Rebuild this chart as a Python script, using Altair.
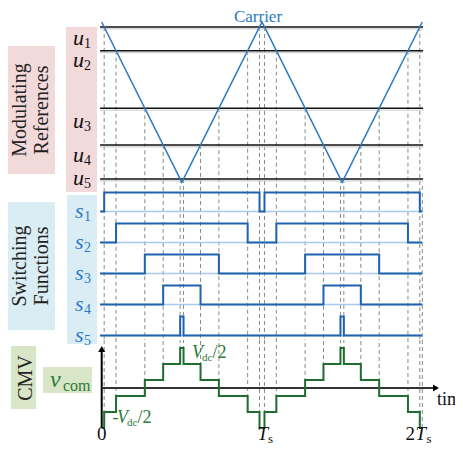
import altair as alt
import pandas as pd

# ---------------- data ----------------
# triangular carrier: time in units of Ts, value normalised 0..1
carrier_t = [0.0, 0.5, 1.0, 1.5, 2.0]
carrier_v = [1.0, 0.0, 1.0, 0.0, 1.0]

# modulating references u1..u5 (same normalised units as the carrier)
ref_names = ["1", "2", "3", "4", "5"]
ref_levels = [0.969, 0.821, 0.462, 0.233, 0.021]

# carrier periods shown
periods = [0, 1]

# common-mode voltage range (units of Vdc): -Vdc/2 .. +Vdc/2 in 5 steps
cmv_min, cmv_max = -0.5, 0.5
n_levels = 5

# ---------------- colours / fonts ----------------
SERIF = "Liberation Serif, Times New Roman, Tinos, DejaVu Serif, serif"
BLUE = "#2a78c2"
DBLUE = "#1f63ae"
LBLUE = "#a9cbea"
GREEN = "#1f6d2f"
GTEXT = "#2b7a38"
PINK = "#f2dada"
LBOX = "#daedf4"
GBOX = "#d8e5c6"
DASH = "#8a8a8a"

# ---------------- layout (page pixels) ----------------
W, H = 447, 436
def PX(p):
    return p - 8

X0, XTS = 101.7, 160.3           # page x of t=0, pixels per Ts
YTOP, YBOT = 22.0, 182.3         # carrier top / bottom (page y)
XS = alt.Scale(domain=[0, 2], range=[PX(X0), PX(X0 + 2 * XTS)], nice=False, zero=False)
YC = alt.Scale(domain=[0, 1], range=[PX(YBOT), PX(YTOP)], nice=False, zero=False)
row_low = [211.5 + 31 * k for k in range(5)]
ROW_AMP = 19
YR = [alt.Scale(domain=[0, 1], range=[PX(l), PX(l - ROW_AMP)], nice=False, zero=False) for l in row_low]
YV = alt.Scale(domain=[cmv_min, cmv_max], range=[PX(428), PX(348)], nice=False, zero=False)
SPLIT = PX(340)

def tx(px):
    return (px - X0) / XTS

def cy(py):
    return (YBOT - py) / (YBOT - YTOP)

def level(n):
    return cmv_min + (cmv_max - cmv_min) * n / n_levels

# ---------------- derived switching edges ----------------
edges = []
rows = []
for k, u in enumerate(ref_levels):
    a = (1 - u) / 2
    pts = [(-0.01, 0)]
    for p in periods:
        edges.append((p + a, k, 1))
        edges.append((p + 1 - a, k, -1))
        pts += [(p + a, 1), (p + 1 - a, 0)]
    pts.append((2.0, 0))
    rows.append(pd.DataFrame(pts, columns=["t", "s"]))
edges.sort()
n = 0
cmv_pts = [(0.0, level(0))]
dash_rows = []
for t, k, d in edges:
    before = n
    n += d
    cmv_pts.append((t, level(n)))
    dash_rows.append(dict(t=t, u=ref_levels[k], vlow=level(min(before, n))))
cmv_pts.append((2.0, level(n)))
cmv_df = pd.DataFrame(cmv_pts, columns=["t", "v"])
dash_df = pd.DataFrame(dash_rows)

carrier_df = pd.DataFrame({"t": carrier_t, "c": carrier_v})
ref_df = pd.DataFrame({"name": ref_names, "u": ref_levels, "t0": -0.01, "t1": 2.005})

X = lambda f: alt.X(f, scale=XS, axis=None)

layers = []

# label boxes
boxes = [(7, 55, 46, 174, PINK), (66, 97, 27, 192, PINK),
         (7, 55, 202, 330, LBOX), (67, 97, 195, 344, LBOX),
         (11, 36, 346, 409, GBOX), (43, 92, 367, 393, GBOX)]
box_df = pd.DataFrame([dict(x0=tx(a), x1=tx(b), y0=cy(c), y1=cy(d), fill=f) for a, b, c, d, f in boxes])
layers.append(alt.Chart(box_df).mark_rect().encode(
    x=X("x0:Q"), x2="x1:Q", y=alt.Y("y0:Q", scale=YC, axis=None), y2="y1:Q",
    color=alt.Color("fill:N", scale=None)))

# dashed guides
layers.append(alt.Chart(dash_df).mark_rule(color=DASH, strokeWidth=1, strokeDash=[4, 3]).encode(
    x=X("t:Q"), y=alt.Y("u:Q", scale=YC, axis=None), y2=alt.value(SPLIT)))
layers.append(alt.Chart(dash_df).mark_rule(color=DASH, strokeWidth=1, strokeDash=[4, 3]).encode(
    x=X("t:Q"), y=alt.Y("vlow:Q", scale=YV, axis=None), y2=alt.value(SPLIT)))
layers.append(alt.Chart(pd.DataFrame({"t": [2.0], "v": [cmv_min]})).mark_rule(
    color=DASH, strokeWidth=1, strokeDash=[4, 3]).encode(
    x=X("t:Q"), y=alt.Y("v:Q", scale=YV, axis=None), y2=alt.value(PX(184))))

# reference lines
layers.append(alt.Chart(ref_df).mark_rule(color="#cfcfcf", strokeWidth=1.2, yOffset=2).encode(
    x=X("t0:Q"), x2="t1:Q", y=alt.Y("u:Q", scale=YC, axis=None)))
layers.append(alt.Chart(ref_df).mark_rule(color="#111111", strokeWidth=1.4).encode(
    x=X("t0:Q"), x2="t1:Q", y=alt.Y("u:Q", scale=YC, axis=None)))

# carrier
layers.append(alt.Chart(carrier_df).mark_line(color=BLUE, strokeWidth=1.5).encode(
    x=X("t:Q"), y=alt.Y("c:Q", scale=YC, axis=None)))

# switching functions
for k in range(5):
    base = pd.DataFrame({"t0": [-0.01], "t1": [2.005], "s": [0]})
    layers.append(alt.Chart(base).mark_rule(color=LBLUE, strokeWidth=1.6).encode(
        x=X("t0:Q"), x2="t1:Q", y=alt.Y("s:Q", scale=YR[k], axis=None)))
    layers.append(alt.Chart(rows[k]).mark_line(color=DBLUE, strokeWidth=2, interpolate="step-after").encode(
        x=X("t:Q"), y=alt.Y("s:Q", scale=YR[k], axis=None)))

# CMV axes
layers.append(alt.Chart(pd.DataFrame({"t": [0.0], "v0": [cmv_min], "v1": [0.49]})).mark_rule(
    color="black", strokeWidth=2).encode(x=X("t:Q"), y=alt.Y("v0:Q", scale=YV, axis=None), y2="v1:Q"))
layers.append(alt.Chart(pd.DataFrame({"t0": [0.0], "t1": [tx(433)], "v": [0.0]})).mark_rule(
    color="#333333", strokeWidth=1.8).encode(x=X("t0:Q"), x2="t1:Q", y=alt.Y("v:Q", scale=YV, axis=None)))
layers.append(alt.Chart(pd.DataFrame({"t": [0.0], "v": [0.4875]})).mark_point(
    shape="triangle-up", filled=True, size=49, color="black", opacity=1).encode(
    x=X("t:Q"), y=alt.Y("v:Q", scale=YV, axis=None)))
layers.append(alt.Chart(pd.DataFrame({"t": [tx(436)], "v": [0.0]})).mark_point(
    shape="triangle-right", filled=True, size=49, color="black", opacity=1).encode(
    x=X("t:Q"), y=alt.Y("v:Q", scale=YV, axis=None)))

# CMV waveform
layers.append(alt.Chart(cmv_df).mark_line(color=GREEN, strokeWidth=2, interpolate="step-after").encode(
    x=X("t:Q"), y=alt.Y("v:Q", scale=YV, axis=None)))

# ---------------- texts ----------------
def texts(items, **props):
    df = pd.DataFrame([dict(label=s, x=tx(a), y=cy(b)) for s, a, b in items])
    base = dict(font=SERIF, baseline="alphabetic")
    base.update(props)
    return alt.Chart(df).mark_text(**base).encode(
        x=X("x:Q"), y=alt.Y("y:Q", scale=YC, axis=None), text="label:N")

layers.append(texts([("Modulating", 26, 110), ("References", 48, 110),
                     ("Switching", 26, 266), ("Functions", 48, 266), ("CMV", 31.5, 378)],
                    angle=270, fontSize=20, color="#222222", align="center"))
layers.append(texts([("Carrier", 258, 21.5)], fontSize=17, color=BLUE, align="center"))

u_base = [45, 67, 128, 162, 185]
layers.append(texts([("u", 73, b) for b in u_base], fontSize=22, fontStyle="italic",
                    color="#111111", align="left"))
layers.append(texts([(nm, 84, b + 2.5) for nm, b in zip(ref_names, u_base)], fontSize=14,
                    color="#111111", align="left"))
s_base = [l + 6.5 for l in row_low]
layers.append(texts([("s", 75, b) for b in s_base], fontSize=22, fontStyle="italic",
                    color=BLUE, align="left"))
layers.append(texts([(nm, 84, b + 3) for nm, b in zip(ref_names, s_base)], fontSize=14,
                    color=BLUE, align="left"))

layers.append(texts([("v", 50, 387)], fontSize=24, fontStyle="italic", color=GTEXT, align="left"))
layers.append(texts([("com", 63, 391)], fontSize=16, color=GTEXT, align="left"))

layers.append(texts([("-", 112.5, 423), ("/2", 137.5, 423), ("/2", 212.5, 358)],
                    fontSize=18, color=GTEXT, align="left"))
layers.append(texts([("V", 117, 423), ("V", 192, 358)], fontSize=18, fontStyle="italic",
                    color=GTEXT, align="left"))
layers.append(texts([("dc", 127, 426), ("dc", 202, 361)], fontSize=11, color=GTEXT, align="left"))

layers.append(texts([("0", X0, 440)], fontSize=19, color="#111111", align="center"))
layers.append(texts([("2", 405.5, 440)], fontSize=19, color="#111111", align="left"))
layers.append(texts([("T", 257.5, 440), ("T", 415.5, 440)], fontSize=19, fontStyle="italic",
                    color="#111111", align="left"))
layers.append(texts([("s", 268, 442.5), ("s", 426.5, 442.5)], fontSize=13, color="#111111", align="left"))
layers.append(texts([("time", 437, 405)], fontSize=18, color="#111111", align="left"))

chart = alt.layer(*layers).resolve_scale(y="independent").properties(
    width=W, height=H, padding=0, autosize=alt.AutoSizeParams(type="none")
).configure_view(stroke=None)

chart.save("out.html", embed_options={"renderer": "svg", "actions": False})
